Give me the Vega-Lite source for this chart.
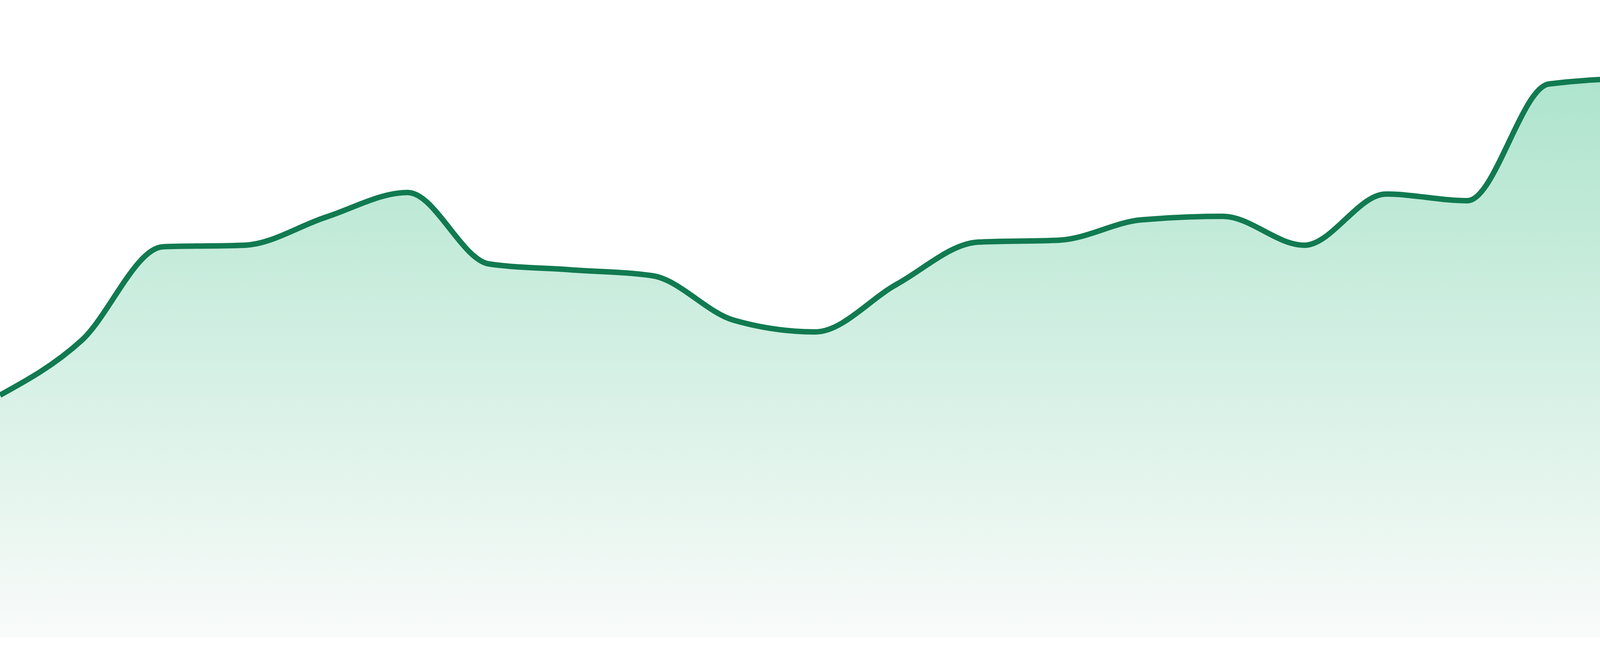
{
  "$schema": "https://vega.github.io/schema/vega-lite/v6.json",
  "width": 4800,
  "height": 1680,
  "autosize": {"type": "none"},
  "padding": 0,
  "background": "#ffffff",
  "config": {"view": {"stroke": null}},
  "data": {
    "values": [
      {"day": 0, "value": 62.0},
      {"day": 1, "value": 76.0},
      {"day": 2, "value": 100.0},
      {"day": 3, "value": 100.4},
      {"day": 4, "value": 107.6},
      {"day": 5, "value": 113.9},
      {"day": 6, "value": 95.6},
      {"day": 7, "value": 94.1},
      {"day": 8, "value": 92.6},
      {"day": 9, "value": 81.2},
      {"day": 10, "value": 78.2},
      {"day": 11, "value": 90.4},
      {"day": 12, "value": 101.2},
      {"day": 13, "value": 101.7},
      {"day": 14, "value": 106.9},
      {"day": 15, "value": 107.8},
      {"day": 16, "value": 100.4},
      {"day": 17, "value": 113.5},
      {"day": 18, "value": 111.8},
      {"day": 19, "value": 141.7},
      {"day": 20, "value": 143.0},
      {"day": 21, "value": 138.2},
      {"day": 22, "value": 135.6},
      {"day": 23, "value": 129.9}
    ]
  },
  "encoding": {
    "x": {"field": "day", "type": "quantitative", "axis": null,
          "scale": {"domain": [0, 23], "nice": false, "zero": false}},
    "y": {"field": "value", "type": "quantitative", "axis": null,
          "scale": {"domain": [-4.8, 163.2], "nice": false}}
  },
  "layer": [
    {
      "mark": {
        "type": "area",
        "interpolate": "monotone",
        "color": {
          "gradient": "linear",
          "x1": 0, "y1": 0, "x2": 0, "y2": 1,
          "stops": [
            {"offset": 0, "color": "#aee4cd"},
            {"offset": 1, "color": "#f9fbfa"}
          ]
        }
      }
    },
    {
      "mark": {
        "type": "line",
        "interpolate": "monotone",
        "color": "#117a50",
        "strokeWidth": 14
      }
    }
  ]
}
